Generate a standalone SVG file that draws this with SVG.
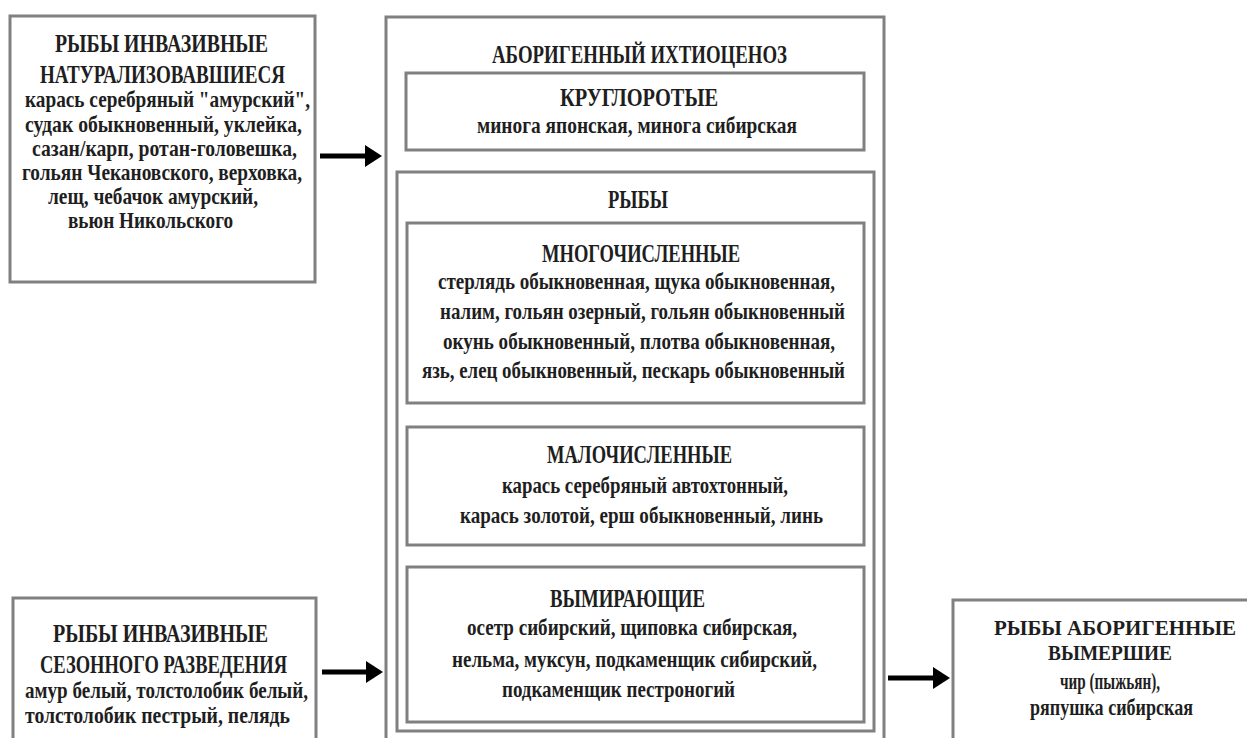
<svg xmlns="http://www.w3.org/2000/svg" width="1247" height="738" viewBox="0 0 1247 738">
<defs>
<style>
.box{fill:#ffffff;stroke:#808080;stroke-width:3}
.t{font-family:"Liberation Serif","DejaVu Serif",serif;font-weight:bold;fill:#1e1e1e;font-size:25px}
.b{font-family:"Liberation Serif","DejaVu Serif",serif;font-weight:bold;fill:#1e1e1e;font-size:24px}
.s{font-size:22px}
.arr{stroke:#000;stroke-width:5;fill:none}
</style>
<marker id="ah" markerUnits="userSpaceOnUse" markerWidth="17" markerHeight="22" refX="1" refY="11" orient="auto" viewBox="0 0 17 22">
<path d="M0,0 L17,11 L0,22 Z" fill="#000"/>
</marker>
</defs>
<rect width="1247" height="738" fill="#ffffff"/>

<g id="invasive-naturalized">
<rect class="box" x="10" y="16" width="305" height="266"/>
<text class="t" x="55" y="52" textLength="213" lengthAdjust="spacingAndGlyphs">РЫБЫ ИНВАЗИВНЫЕ</text>
<text class="t" x="40" y="83" textLength="245" lengthAdjust="spacingAndGlyphs">НАТУРАЛИЗОВАВШИЕСЯ</text>
<text class="b" x="25" y="107" textLength="285" lengthAdjust="spacingAndGlyphs">карась серебряный "амурский",</text>
<text class="b" x="25" y="132" textLength="277" lengthAdjust="spacingAndGlyphs">судак обыкновенный, уклейка,</text>
<text class="b" x="32" y="156" textLength="265" lengthAdjust="spacingAndGlyphs">сазан/карп, ротан-головешка,</text>
<text class="b" x="22" y="180" textLength="280" lengthAdjust="spacingAndGlyphs">гольян Чекановского, верховка,</text>
<text class="b" x="48" y="204" textLength="210" lengthAdjust="spacingAndGlyphs">лещ, чебачок амурский,</text>
<text class="b" x="68" y="228" textLength="165" lengthAdjust="spacingAndGlyphs">вьюн Никольского</text>
</g>

<g id="aboriginal-ichthyocenosis">
<rect class="box" x="386" y="17" width="498" height="740"/>
<text class="t" x="492" y="63" textLength="295" lengthAdjust="spacingAndGlyphs">АБОРИГЕННЫЙ ИХТИОЦЕНОЗ</text>
</g>

<g id="cyclostomes">
<rect class="box" x="406" y="73" width="458" height="77"/>
<text class="t" x="560" y="106" textLength="158" lengthAdjust="spacingAndGlyphs">КРУГЛОРОТЫЕ</text>
<text class="b" x="477" y="133" textLength="320" lengthAdjust="spacingAndGlyphs">минога японская, минога сибирская</text>
</g>

<g id="fishes">
<rect class="box" x="397" y="172" width="477" height="559"/>
<text class="t" x="608" y="208" textLength="60" lengthAdjust="spacingAndGlyphs">РЫБЫ</text>
</g>

<g id="numerous">
<rect class="box" x="407" y="223" width="457" height="180"/>
<text class="t" x="542" y="262" textLength="198" lengthAdjust="spacingAndGlyphs">МНОГОЧИСЛЕННЫЕ</text>
<text class="b" x="438" y="289" textLength="397" lengthAdjust="spacingAndGlyphs">стерлядь обыкновенная, щука обыкновенная,</text>
<text class="b" x="440" y="319" textLength="405" lengthAdjust="spacingAndGlyphs">налим, гольян озерный, гольян обыкновенный</text>
<text class="b" x="443" y="349" textLength="392" lengthAdjust="spacingAndGlyphs">окунь обыкновенный, плотва обыкновенная,</text>
<text class="b" x="422" y="378" textLength="423" lengthAdjust="spacingAndGlyphs">язь, елец обыкновенный, пескарь обыкновенный</text>
</g>

<g id="few">
<rect class="box" x="407" y="427" width="457" height="118"/>
<text class="t" x="547" y="463" textLength="185" lengthAdjust="spacingAndGlyphs">МАЛОЧИСЛЕННЫЕ</text>
<text class="b" x="502" y="493" textLength="286" lengthAdjust="spacingAndGlyphs">карась серебряный автохтонный,</text>
<text class="b" x="460" y="523" textLength="363" lengthAdjust="spacingAndGlyphs">карась золотой, ерш обыкновенный, линь</text>
</g>

<g id="dying-out">
<rect class="box" x="407" y="567" width="457" height="155"/>
<text class="t" x="550" y="607" textLength="155" lengthAdjust="spacingAndGlyphs">ВЫМИРАЮЩИЕ</text>
<text class="b" x="467" y="635" textLength="330" lengthAdjust="spacingAndGlyphs">осетр сибирский, щиповка сибирская,</text>
<text class="b" x="452" y="667" textLength="365" lengthAdjust="spacingAndGlyphs">нельма, муксун, подкаменщик сибирский,</text>
<text class="b" x="502" y="697" textLength="233" lengthAdjust="spacingAndGlyphs">подкаменщик пестроногий</text>
</g>

<g id="invasive-seasonal">
<rect class="box" x="13" y="598" width="303" height="160"/>
<text class="t" x="53" y="642" textLength="215" lengthAdjust="spacingAndGlyphs">РЫБЫ ИНВАЗИВНЫЕ</text>
<text class="t" x="40" y="673" textLength="247" lengthAdjust="spacingAndGlyphs">СЕЗОННОГО РАЗВЕДЕНИЯ</text>
<text class="b" x="25" y="698" textLength="283" lengthAdjust="spacingAndGlyphs">амур белый, толстолобик белый,</text>
<text class="b" x="25" y="723" textLength="265" lengthAdjust="spacingAndGlyphs">толстолобик пестрый, пелядь</text>
</g>

<g id="aboriginal-extinct">
<rect class="box" x="953" y="600" width="320" height="160"/>
<text class="t s" x="994" y="635" textLength="242" lengthAdjust="spacingAndGlyphs">РЫБЫ АБОРИГЕННЫЕ</text>
<text class="t s" x="1048" y="660" textLength="124" lengthAdjust="spacingAndGlyphs">ВЫМЕРШИЕ</text>
<text class="b" x="1060" y="689" textLength="100" lengthAdjust="spacingAndGlyphs">чир (пыжьян),</text>
<text class="b" x="1030" y="715" textLength="163" lengthAdjust="spacingAndGlyphs">ряпушка сибирская</text>
</g>

<g id="connectors">
<line class="arr" x1="320" y1="156" x2="366" y2="156" marker-end="url(#ah)"/>
<line class="arr" x1="322" y1="672" x2="367" y2="672" marker-end="url(#ah)"/>
<line class="arr" x1="888" y1="678" x2="934" y2="678" marker-end="url(#ah)"/>
</g>
</svg>
